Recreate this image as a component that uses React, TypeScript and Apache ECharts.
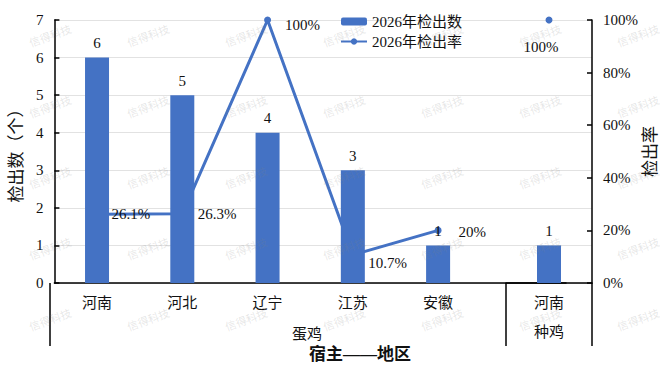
import React, { useEffect, useRef } from "react";
import * as echarts from "echarts";

// ---------- data ----------
const layerRegions = ["河南", "河北", "辽宁", "江苏", "安徽"];
const breederRegions = ["河南"];
const layerCounts = [6, 5, 4, 3, 1];
const breederCounts = [1];
const layerRates = [26.1, 26.3, 100, 10.7, 20];
const breederRates = [100];
const hostGroups = ["蛋鸡", "种鸡"];
const xAxisTitle = "宿主——地区";
const leftAxisTitle = "检出数（个）";
const rightAxisTitle = "检出率";
const seriesNames = ["2026年检出数", "2026年检出率"];
const watermarkText = "信得科技";

// ---------- layout / style ----------
const W = 660;
const H = 370;
const PLOT_LEFT = 50;
const PLOT_TOP = 20;
const PLOT_BOTTOM = 283;
const SEP_X = 506;
const PLOT_RIGHT = 592;
const BAND = 86;
const BLUE = "#4472C4";
const SERIF = "'Liberation Serif', 'Noto Sans CJK SC', serif";
const TEXT = "#111";

const rateLabelLayout = [
  { position: "right", distance: 11, offset: [0, 0] },
  { position: "right", distance: 12, offset: [0, 0] },
  { position: "right", distance: 14, offset: [0, 5] },
  { position: "right", distance: 12, offset: [0, 8] },
  { position: "right", distance: 17, offset: [0, 2] },
];

export default function App() {
  const ref = useRef<HTMLDivElement>(null);

  useEffect(() => {
    document.body.style.margin = "0";
    if (!ref.current) return;
    const chart = echarts.init(ref.current, undefined, { renderer: "svg" });

    const watermarks: any[] = [];
    for (let r = 0; r < 5; r++) {
      for (let c = 0; c < 7; c++) {
        watermarks.push({
          type: "text",
          x: 50 + c * 98,
          y: 35 + r * 71,
          rotation: 0.35,
          silent: true,
          z: 100,
          style: {
            text: watermarkText,
            fill: "rgba(130,130,130,0.2)",
            font: "11px 'Noto Sans CJK SC', sans-serif",
            align: "center",
            verticalAlign: "middle",
          },
        });
      }
    }

    const vline = (x: number) => ({
      type: "line",
      shape: { x1: x, y1: PLOT_BOTTOM, x2: x, y2: 346 },
      style: { stroke: "#000", lineWidth: 1.5 },
      z: 50,
    });

    const axisText = (text: string, x: number, y: number, bold = false) => ({
      type: "text",
      x,
      y,
      z: 50,
      style: {
        text,
        fill: TEXT,
        font: `${bold ? "bold " : ""}${bold ? 17 : 15}px ${SERIF}`,
        align: "center",
        verticalAlign: "middle",
      },
    });

    const option: any = {
      animation: false,
      backgroundColor: "#fff",
      textStyle: { fontFamily: SERIF, color: TEXT },
      legend: {
        orient: "vertical",
        left: 335,
        top: 9,
        itemWidth: 26,
        itemHeight: 8,
        itemGap: 5,
        data: seriesNames,
        textStyle: { fontFamily: SERIF, fontSize: 15, color: TEXT },
      },
      grid: [
        { left: PLOT_LEFT, top: PLOT_TOP, width: BAND * 6, height: PLOT_BOTTOM - PLOT_TOP },
        { left: SEP_X, top: PLOT_TOP, width: PLOT_RIGHT - SEP_X, height: PLOT_BOTTOM - PLOT_TOP },
      ],
      xAxis: [
        {
          type: "category",
          gridIndex: 0,
          data: [...layerRegions, ""],
          axisLine: { lineStyle: { color: "#000", width: 1.5 } },
          axisTick: { show: false },
          axisLabel: { fontFamily: SERIF, fontSize: 15, color: TEXT, margin: 12, interval: 0 },
        },
        {
          type: "category",
          gridIndex: 1,
          data: breederRegions,
          axisLine: { lineStyle: { color: "#000", width: 1.5 } },
          axisTick: { show: false },
          axisLabel: { fontFamily: SERIF, fontSize: 15, color: TEXT, margin: 12 },
        },
      ],
      yAxis: [
        {
          type: "value",
          gridIndex: 0,
          position: "left",
          min: 0,
          max: 7,
          interval: 1,
          name: leftAxisTitle,
          nameLocation: "middle",
          nameRotate: 90,
          nameGap: 27,
          nameTextStyle: { fontFamily: SERIF, fontSize: 17, color: TEXT },
          axisLine: { show: true, lineStyle: { color: "#000", width: 1.5 } },
          axisTick: { show: true, inside: true, length: 5, lineStyle: { color: "#000", width: 1.5 } },
          axisLabel: { fontFamily: SERIF, fontSize: 15, color: TEXT, margin: 11 },
          splitLine: { lineStyle: { color: "#e2e2e2", width: 1 } },
        },
        {
          type: "value",
          gridIndex: 0,
          position: "right",
          min: 0,
          max: 100,
          interval: 20,
          show: false,
        },
        {
          type: "value",
          gridIndex: 1,
          position: "left",
          min: 0,
          max: 7,
          interval: 1,
          axisLine: { show: false },
          axisTick: { show: false },
          axisLabel: { show: false },
          splitLine: { lineStyle: { color: "#e2e2e2", width: 1 } },
        },
        {
          type: "value",
          gridIndex: 1,
          position: "right",
          min: 0,
          max: 100,
          interval: 20,
          name: rightAxisTitle,
          nameLocation: "middle",
          nameRotate: 90,
          nameGap: 45,
          nameTextStyle: { fontFamily: SERIF, fontSize: 17, color: TEXT },
          axisLine: { show: true, lineStyle: { color: "#000", width: 1.5 } },
          axisTick: { show: true, inside: true, length: 5, lineStyle: { color: "#000", width: 1.5 } },
          axisLabel: { fontFamily: SERIF, fontSize: 15, color: TEXT, margin: 11, formatter: "{value}%" },
          splitLine: { show: false },
        },
      ],
      series: [
        {
          name: seriesNames[1],
          type: "line",
          xAxisIndex: 0,
          yAxisIndex: 1,
          z: 2,
          data: layerRates.map((v, i) => ({
            value: v,
            label: rateLabelLayout[i],
          })),
          symbol: "circle",
          symbolSize: 7,
          showSymbol: true,
          itemStyle: { color: BLUE },
          lineStyle: { color: BLUE, width: 3 },
          label: {
            show: true,
            formatter: (p: any) => `${p.value}%`,
            fontFamily: SERIF,
            fontSize: 15,
            color: TEXT,
          },
        },
        {
          name: seriesNames[0],
          type: "bar",
          xAxisIndex: 0,
          yAxisIndex: 0,
          z: 3,
          barWidth: 24,
          data: layerCounts,
          itemStyle: { color: BLUE },
          label: { show: true, position: "top", distance: 7, fontFamily: SERIF, fontSize: 15, color: TEXT },
        },
        {
          name: seriesNames[0],
          type: "bar",
          xAxisIndex: 1,
          yAxisIndex: 2,
          z: 3,
          barWidth: 24,
          data: breederCounts,
          itemStyle: { color: BLUE },
          label: { show: true, position: "top", distance: 7, fontFamily: SERIF, fontSize: 15, color: TEXT },
        },
        {
          name: seriesNames[1],
          type: "line",
          xAxisIndex: 1,
          yAxisIndex: 3,
          z: 2,
          data: breederRates,
          symbol: "circle",
          symbolSize: 7,
          itemStyle: { color: BLUE },
          lineStyle: { color: BLUE, width: 3 },
          label: {
            show: true,
            position: "bottom",
            distance: 16,
            offset: [-8, 0],
            formatter: (p: any) => `${p.value}%`,
            fontFamily: SERIF,
            fontSize: 15,
            color: TEXT,
          },
        },
      ],
      graphic: [
        vline(PLOT_LEFT),
        vline(SEP_X),
        vline(PLOT_RIGHT),
        axisText(hostGroups[0], 307, 334),
        axisText(hostGroups[1], 549, 332),
        axisText(xAxisTitle, 360, 354, true),
        ...watermarks,
      ],
    };

    chart.setOption(option);
    return () => chart.dispose();
  }, []);

  return (
    <div
      ref={ref}
      style={{ position: "absolute", left: 0, top: 0, width: W, height: H }}
    />
  );
}
